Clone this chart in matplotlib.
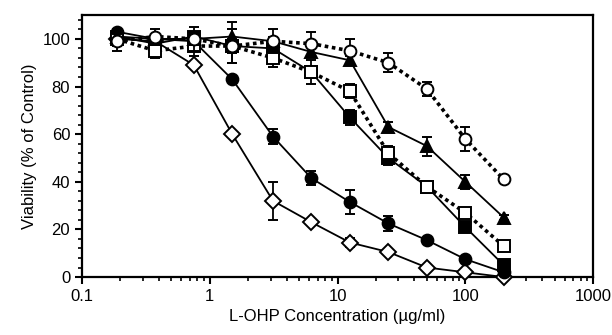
import numpy as np
import matplotlib
matplotlib.use("Agg")
import matplotlib.pyplot as plt
import matplotlib.ticker as ticker

plt.rcParams['font.family'] = ['Liberation Sans', 'DejaVu Sans']

# L-OHP concentrations (ug/ml)
conc = [0.1875, 0.375, 0.75, 1.5, 3.125, 6.25, 12.5, 25, 50, 100, 200]

# viability (% of control) and error for each cell line
open_circle = [99, 101, 100, 97, 99, 98, 95, 90, 79, 58, 41]
open_circle_err = [4, 3, 5, 7, 5, 5, 5, 4, 3, 5, 1]

filled_triangle = [101, 100, 100, 101, 99, 94.5, 91, 63, 55, 40, 25]
filled_triangle_err = [1, 1, 1, 6, 2, 2, 2, 2, 4, 3, 1]

open_square = [100, 95, 97, 97, 92, 86, 78, 52, 38, 27, 13]
open_square_err = [3, 3, 4, 3, 4, 5, 3, 3, 2, 2, 1]

filled_square = [101, 98, 101, 97, 96, 86, 67, 50, 38, 21, 5]
filled_square_err = [1, 1, 1, 7, 1, 1, 3, 3, 1, 1, 1]

filled_circle = [103, 100, 99, 83, 59, 41.5, 31.5, 22.5, 15.5, 7.5, 2]
filled_circle_err = [1, 1, 1, 1, 3, 3, 5, 3, 1, 1, 1]

diamond = [100, 99, 89, 60, 32, 23, 14.5, 10.5, 4, 2, 0]
diamond_err = [1, 1, 1, 1, 8, 1, 2, 1, 1, 1, 0]

fig = plt.figure(figsize=(6.12, 3.35), dpi=100)
ax = fig.add_axes([0.134, 0.173, 0.835, 0.782])

def draw(vals, err, marker, filled, ls, lw, ms, z):
    fc = 'black' if filled else 'white'
    ax.errorbar(conc, vals, yerr=err, color='black', ecolor='black',
                elinewidth=1.3, capsize=3.5, capthick=1.5,
                marker=marker, markersize=ms, markerfacecolor=fc,
                markeredgecolor='black', markeredgewidth=1.4,
                linestyle=ls, linewidth=lw, clip_on=False, zorder=z)

# drawn back to front
draw(diamond, diamond_err, 'D', False, '-', 1.3, 8.5, 3)
draw(filled_circle, filled_circle_err, 'o', True, '-', 1.3, 8.5, 4)
draw(filled_square, filled_square_err, 's', True, '-', 1.3, 8.5, 5)
draw(open_square, open_square_err, 's', False, (0, (1, 1)), 2.6, 8.5, 6)
draw(filled_triangle, filled_triangle_err, '^', True, '-', 1.3, 8.5, 7)
draw(open_circle, open_circle_err, 'o', False, (0, (1, 1)), 2.6, 8.5, 8)

ax.set_xscale('log')
ax.set_xlim(0.1, 1000)
ax.set_ylim(0, 110)
ax.set_xticks([0.1, 1, 10, 100, 1000])
ax.xaxis.set_major_formatter(ticker.FuncFormatter(lambda v, p: '{:g}'.format(v)))
ax.xaxis.set_minor_locator(ticker.LogLocator(base=10, subs=np.arange(2, 10), numticks=20))
ax.xaxis.set_minor_formatter(ticker.NullFormatter())
ax.set_yticks([0, 20, 40, 60, 80, 100])
ax.yaxis.set_minor_locator(ticker.MultipleLocator(4))

ax.tick_params(axis='both', which='major', direction='out', length=5, width=1.5, labelsize=12)
ax.tick_params(axis='both', which='minor', direction='out', length=3, width=1.2)
for s in ax.spines.values():
    s.set_linewidth(1.6)

ax.set_xlabel('L-OHP Concentration (\u00b5g/ml)', fontsize=12)
ax.set_ylabel('Viability (% of Control)', fontsize=12)

fig.savefig('out.png', dpi=100)
